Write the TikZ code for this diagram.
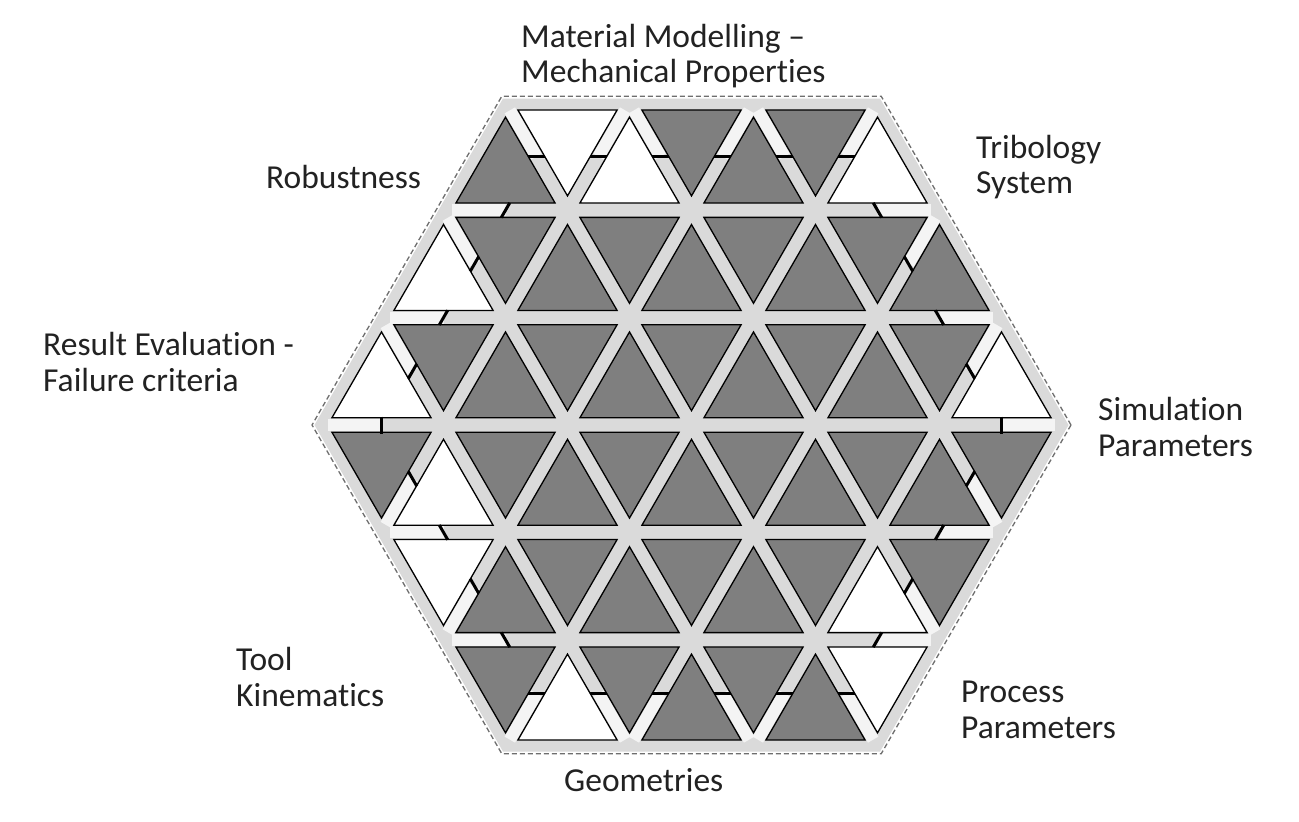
\documentclass[tikz,border=0pt]{standalone}
\usepackage{fontspec}
\setmainfont[Ligatures=NoCommon]{Carlito}
\usetikzlibrary{calc}
\definecolor{dk}{HTML}{7F7F7F}
\definecolor{wt}{HTML}{FFFFFF}
\definecolor{barc}{HTML}{DADADA}
\definecolor{barout}{HTML}{F4F4F4}
\definecolor{dashc}{HTML}{6E6E6E}
\definecolor{txt}{HTML}{222222}
\begin{document}
\begin{tikzpicture}[x=1pt,y=-1pt,
  lab/.style={font=\fontsize{33.5}{35.5}\selectfont, text=txt, align=left, anchor=west, inner sep=0pt},
  tripiece/.style={draw=black, line width=1.3pt, line join=miter},
  tickmark/.style={draw=black, line width=3pt},
  outerbar/.style={draw=barout, line width=12pt},
  hexframe/.style={draw=dashc, dash pattern=on 5pt off 3pt, line width=1.3pt},
]
\useasboundingbox (0,0) rectangle (1299,822);
\fill[white] (0,0) rectangle (1299,822);
\def\cx{691.5}\def\cy{425}\def\P{124}\def\h{107.39}
\coordinate (O) at (\cx,\cy);
% background of the lattice (bars)
\fill[barc] ($(O)+(0:377)$) -- ($(O)+(60:377)$) -- ($(O)+(120:377)$) -- ($(O)+(180:377)$) -- ($(O)+(240:377)$) -- ($(O)+(300:377)$) -- cycle;
\draw[hexframe] ($(O)+(0:379.5)$) -- ($(O)+(60:379.5)$) -- ($(O)+(120:379.5)$) -- ($(O)+(180:379.5)$) -- ($(O)+(240:379.5)$) -- ($(O)+(300:379.5)$) -- cycle;
% spokes of the outer ring: inner i/j, outer i/j, tick direction
\def\spokes{-2/-2/-3/-3/1/0, -2/-2/-1/-3/1/0, 0/-2/-1/-3/1/0, 0/-2/1/-3/1/0, 2/-2/1/-3/1/0, 2/-2/3/-3/1/0,
 -2/-2/-4/-2/0.5/-0.866, -3/-1/-4/-2/0.5/-0.866, -3/-1/-5/-1/0.5/-0.866, -4/0/-5/-1/0.5/-0.866,
 -4/0/-6/0/0/1,
 -4/0/-5/1/0.5/0.866, -3/1/-5/1/0.5/0.866, -3/1/-4/2/0.5/0.866, -2/2/-4/2/0.5/0.866,
 -2/2/-3/3/1/0, -2/2/-1/3/1/0, 0/2/-1/3/1/0, 0/2/1/3/1/0, 2/2/1/3/1/0, 2/2/3/3/1/0,
 2/2/4/2/0.5/-0.866, 3/1/4/2/0.5/-0.866, 3/1/5/1/0.5/-0.866, 4/0/5/1/0.5/-0.866,
 4/0/6/0/0/1,
 4/0/5/-1/0.5/0.866, 3/-1/5/-1/0.5/0.866, 3/-1/4/-2/0.5/0.866, 2/-2/4/-2/0.5/0.866}
\foreach \ia/\ja/\ib/\jb/\tx/\ty in \spokes {
  \coordinate (A) at ({\cx+(\ia)*\P/2},{\cy+(\ja)*\h});
  \coordinate (B) at ({\cx+(\ib)*\P/2},{\cy+(\jb)*\h});
  \draw[outerbar] ($(A)!0.5!(B)$) -- ($(A)!0.93!(B)$);
}
% triangles
\foreach \r/\cols in {0/{dk,wt,wt,dk,dk,dk,wt},
  1/{wt,dk,dk,dk,dk,dk,dk,dk,dk},
  2/{wt,dk,dk,dk,dk,dk,dk,dk,dk,dk,wt},
  3/{dk,wt,dk,dk,dk,dk,dk,dk,dk,dk,dk},
  4/{wt,dk,dk,dk,dk,dk,dk,wt,dk},
  5/{dk,wt,dk,dk,dk,dk,wt}} {
  \pgfmathsetmacro\yt{\cy+(\r-3)*\h}
  \pgfmathsetmacro\xs{\cx-ifthenelse(\r<3,2+0.5*\r,4.5-0.5*\r)*\P}
  \foreach \c [count=\k from 0] in \cols {
    \pgfmathsetmacro\sg{ifthenelse((\r<3)==(mod(\k,2)==0),1,-1)}
    \pgfmathsetmacro\gx{\xs+\k*\P/2+\P/2}
    \pgfmathsetmacro\gy{\yt+\h/2+\sg*\h/6}
    \pgfmathsetmacro\dx{0.8*\P/2}
    \pgfmathsetmacro\dyb{\sg*0.8*\h/3}
    \path[tripiece, fill=\c] ({\gx-\dx},{\gy+\dyb}) -- ({\gx+\dx},{\gy+\dyb}) -- ({\gx},{\gy-2*\dyb}) -- cycle;
  }
}
% joint marks
\foreach \ia/\ja/\ib/\jb/\tx/\ty in \spokes {
  \coordinate (A) at ({\cx+(\ia)*\P/2},{\cy+(\ja)*\h});
  \coordinate (B) at ({\cx+(\ib)*\P/2},{\cy+(\jb)*\h});
  \coordinate (M) at ($(A)!0.5!(B)$);
  \draw[tickmark] ($(M)+({-8.5*(\tx)},{-8.5*(\ty)})$) -- ($(M)+({8.5*(\tx)},{8.5*(\ty)})$);
}
% labels
\node[lab] (mat) at (521,56) {Material Modelling –\\Mechanical Properties};
\node[lab] (rob) at (266,177) {Robustness};
\node[lab] (trib) at (976,167) {Tribology\\System};
\node[lab] (res) at (43,362) {Result Evaluation -\\Failure criteria};
\node[lab] (sim) at (1098,427) {Simulation\\Parameters};
\node[lab] (tool) at (236,677) {Tool\\Kinematics};
\node[lab] (proc) at (961,710) {Process\\Parameters};
\node[lab] (geo) at (564,780) {Geometries};
\end{tikzpicture}
\end{document}
